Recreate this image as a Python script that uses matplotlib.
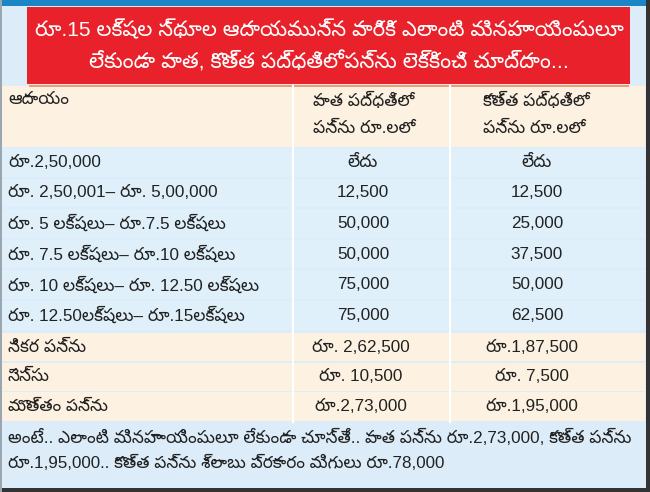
import matplotlib
matplotlib.use("Agg")
import matplotlib.pyplot as plt
from matplotlib import font_manager
from matplotlib.ft2font import FT2Font
from matplotlib.patches import Rectangle

# ---------------- data ----------------
title_lines = ["రూ.15 లక్షల స్థూల ఆదాయమున్న వారికి ఎలాంటి మినహాయింపులూ",
               "లేకుండా పాత, కొత్త పద్ధతిలో పన్ను లెక్కించి చూద్దాం..."]
header = ["ఆదాయం", "పాత పద్ధతిలో\nపన్ను రూ.లలో", "కొత్త పద్ధతిలో\nపన్ను రూ.లలో"]
slabs = ["రూ.2,50,000",
         "రూ. 2,50,001– రూ. 5,00,000",
         "రూ. 5 లక్షలు– రూ.7.5 లక్షలు",
         "రూ. 7.5 లక్షలు– రూ.10 లక్షలు",
         "రూ. 10 లక్షలు– రూ. 12.50 లక్షలు",
         "రూ. 12.50లక్షలు– రూ.15లక్షలు"]
old_tax = ["లేదు", "12,500", "50,000", "50,000", "75,000", "75,000"]
new_tax = ["లేదు", "12,500", "25,000", "37,500", "50,000", "62,500"]
summary_labels = ["నికర పన్ను", "సెస్సు", "మొత్తం పన్ను"]
summary_old = ["రూ. 2,62,500", "రూ. 10,500", "రూ.2,73,000"]
summary_new = ["రూ.1,87,500", "రూ. 7,500", "రూ.1,95,000"]
footer_lines = ["అంటే.. ఎలాంటి మినహాయింపులూ లేకుండా చూస్తే.. పాత పన్ను రూ.2,73,000, కొత్త పన్ను",
                "రూ.1,95,000.. కొత్త పన్ను శ్లాబు ప్రకారం మిగులు రూ.78,000"]

# ---------------- fonts ----------------
cands = []
for fe in font_manager.fontManager.ttflist:
    try:
        if 0x0C30 in FT2Font(fe.fname).get_charmap():
            cands.append(fe.name)
    except Exception:
        pass
tel_family = None
for pref in ("Noto Sans Telugu", "Noto Sans Telugu UI", "Lohit Telugu", "Pothana", "Gurajada",
             "Mandali", "Ramabhadra", "NTR", "Suranna", "Vemana", "Tenali"):
    if pref in cands:
        tel_family = pref
        break
if tel_family is None and cands:
    tel_family = cands[0]
fams = ["Liberation Sans"] + ([tel_family] if tel_family else []) + ["DejaVu Sans"]
plt.rcParams["font.family"] = fams

# ---------------- colours ----------------
BLUE_BG = "#dcedf9"
ROW_BLUE = "#dff0fb"
CREAM = "#fdf2e1"
RED = "#e8212a"
TOPBAR = "#1b86c6"
ORANGE = "#f29b6e"
TXT = "#222222"

W, H = 650, 492
fig = plt.figure(figsize=(6.5, 4.92), dpi=100)
ax = fig.add_axes([0, 0, 1, 1])
ax.set_xlim(0, W)
ax.set_ylim(H, 0)
ax.axis("off")
renderer = fig.canvas.get_renderer()

def rect(x, y, w, h, c, z=1):
    ax.add_patch(Rectangle((x, y), w, h, facecolor=c, edgecolor="none", zorder=z))

def txt(x, y, s, size, maxw=None, **kw):
    t = ax.text(x, y, s, fontsize=size, va="center", zorder=3,
                color=kw.pop("color", TXT), **kw)
    if maxw is not None:
        w = t.get_window_extent(renderer).width
        if w > maxw:
            t.set_fontsize(size * maxw / w)
    return t

FS = 12.3

# background + frame
rect(0, 0, W, H, BLUE_BG, 0)
rect(0, 0, W, 6, TOPBAR, 2)
rect(646, 0, 4, H, "#333333", 5)
rect(0, 488, W, 4, "#333333", 5)
rect(0, 0, 1.5, H, "#9aa7b0", 5)

# red title box
rect(27, 7, 603, 77, RED, 2)
for i, t in enumerate(title_lines):
    txt(329, 30 + i * 32, t, 15.5, maxw=(588 if i == 0 else 480), ha="center", color="white")

# header
x0, x1, x2, x3 = 2, 293, 450, 645
rect(x0, 86, x3 - x0, 61, CREAM, 1)
rect(29, 84.5, 600, 2.5, ORANGE, 2)
txt(8, 100, header[0], FS, maxw=66, ha="left")
for cx, t in ((313, header[1]), (483, header[2])):
    l1, l2 = t.split("\n")
    txt(cx, 100, l1, FS, maxw=106, ha="left")
    txt(cx, 128, l2, FS, maxw=106, ha="left")

# body rows
row_top0 = 148
row_h = 30.6
for i, (lab, o, n) in enumerate(zip(slabs, old_tax, new_tax)):
    y = row_top0 + i * row_h
    rect(x0, y, x3 - x0, row_h - 2, ROW_BLUE, 1)
    yc = y + (row_h - 2) / 2
    txt(8, yc, lab, FS, maxw=268, ha="left")
    txt(363, yc, o, FS, maxw=60, ha="center")
    txt(537, yc, n, FS, maxw=60, ha="center")

sum_top0 = 333
sum_h = 29.7
for i, (lab, o, n) in enumerate(zip(summary_labels, summary_old, summary_new)):
    y = sum_top0 + i * sum_h
    rect(x0, y, x3 - x0, sum_h - 1.5, CREAM, 1)
    yc = y + (sum_h - 1.5) / 2
    txt(8, yc, lab, FS, maxw=100, ha="left")
    txt(361, yc, o, FS, maxw=112, ha="center")
    txt(532, yc, n, FS, maxw=108, ha="center")

# column dividers (white)
for xv in (x1, x2):
    ax.plot([xv, xv], [86, 422], color="white", lw=1.5, zorder=2)

# footer
for i, t in enumerate(footer_lines):
    txt(8, 437 + i * 26, t, 12.3, maxw=(640 if i == 0 else 436), ha="left")

fig.savefig("out.png", dpi=100)
